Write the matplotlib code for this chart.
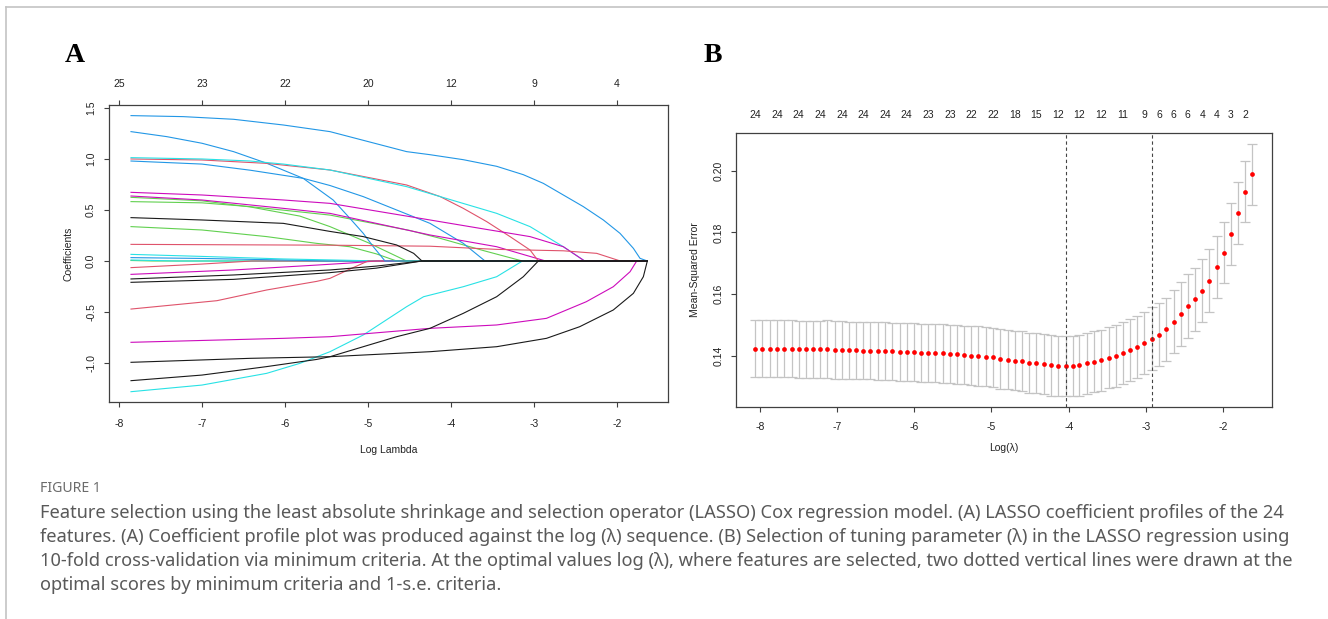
import matplotlib
matplotlib.use("Agg")
import matplotlib.pyplot as plt
from matplotlib.lines import Line2D

W, H, DPI = 1328, 619, 100
R_FONT = ["Liberation Sans", "DejaVu Sans"]

# ---------------- Panel A : coefficient paths ----------------
top_ticks_A = [-8, -7, -6, -5, -4, -3, -2]
top_counts_A = ["25", "23", "22", "20", "12", "9", "4"]
bottom_ticks_A = [-8, -7, -6, -5, -4, -3, -2]
yticks_A = [-1.0, -0.5, 0.0, 0.5, 1.0, 1.5]
lam_end_A = -1.635

blue1_x = [-7.855, -7.225, -6.62, -6.02, -5.458, -4.535, -4.253, -3.852, -3.45, -3.129, -2.888, -2.647, -2.406, -2.165, -1.964, -1.803, -1.723, -1.635]
blue1_y = [1.425, 1.415, 1.389, 1.333, 1.268, 1.072, 1.042, 0.993, 0.928, 0.846, 0.761, 0.647, 0.533, 0.402, 0.271, 0.124, 0.026, 0.0]
blue2_x = [-7.855, -7.425, -7.0, -6.62, -6.22, -5.78, -5.42, -5.22, -5.057, -4.936, -4.795]
blue2_y = [1.268, 1.219, 1.154, 1.072, 0.958, 0.81, 0.598, 0.42, 0.271, 0.14, 0.0]
cyan1_x = [-7.855, -7.0, -6.42, -6.02, -5.458, -4.535, -4.13, -3.45, -3.048, -2.647, -2.39]
cyan1_y = [1.013, 1.0, 0.98, 0.95, 0.892, 0.729, 0.631, 0.467, 0.337, 0.14, 0.0]
pink1_x = [-7.855, -7.0, -6.22, -5.458, -4.535, -4.13, -3.852, -3.57, -3.289, -3.048, -2.948]
pink1_y = [1.0, 0.99, 0.957, 0.892, 0.745, 0.631, 0.516, 0.386, 0.239, 0.108, 0.0]
blue3_x = [-7.855, -7.0, -6.42, -5.78, -5.458, -5.057, -4.655, -4.253, -3.852, -3.59]
blue3_y = [0.98, 0.95, 0.89, 0.81, 0.74, 0.631, 0.50, 0.369, 0.173, 0.0]
magenta1_x = [-7.855, -7.0, -6.02, -5.458, -4.37, -3.65, -3.048, -2.647, -2.39]
magenta1_y = [0.673, 0.647, 0.598, 0.565, 0.418, 0.32, 0.239, 0.14, 0.0]
magenta2_x = [-7.855, -7.0, -6.02, -5.458, -4.253, -3.45, -2.86]
magenta2_y = [0.637, 0.598, 0.516, 0.467, 0.255, 0.14, 0.0]
green1_x = [-7.855, -7.0, -6.42, -5.82, -5.458, -5.0, -4.535]
green1_y = [0.624, 0.59, 0.53, 0.44, 0.337, 0.18, 0.0]
green2_x = [-7.855, -7.0, -6.42, -5.458, -4.5, -4.13, -3.6, -3.14]
green2_y = [0.582, 0.57, 0.533, 0.45, 0.30, 0.222, 0.10, 0.0]
green3_x = [-7.855, -7.0, -6.22, -5.62, -5.22, -4.9, -4.655]
green3_y = [0.337, 0.304, 0.239, 0.173, 0.14, 0.07, 0.0]
black1_x = [-7.855, -7.0, -6.02, -5.458, -5.057, -4.655, -4.45, -4.35]
black1_y = [0.425, 0.402, 0.369, 0.29, 0.239, 0.157, 0.075, 0.0]
pink2_x = [-7.855, -5.458, -4.253, -3.45, -2.647, -2.245, -1.96]
pink2_y = [0.163, 0.155, 0.145, 0.114, 0.10, 0.075, 0.0]
cyan2_x = [-7.855, -7.0, -6.02, -5.42, -4.85]
cyan2_y = [0.065, 0.045, 0.02, 0.01, 0.0]
blue4_x = [-7.855, -7.0, -6.02, -5.5]
blue4_y = [0.033, 0.025, 0.01, 0.0]
cyan3_x = [-7.855, -7.3]
cyan3_y = [0.01, 0.0]
green4_x = [-7.855, -7.6]
green4_y = [0.005, 0.0]
pink3_x = [-7.855, -7.0, -6.4]
pink3_y = [-0.065, -0.03, 0.0]
magenta3_x = [-7.855, -6.62, -5.62, -5.22, -4.9]
magenta3_y = [-0.131, -0.088, -0.04, -0.02, 0.0]
black2_x = [-7.855, -6.62, -5.458, -4.9, -4.35]
black2_y = [-0.176, -0.137, -0.088, -0.05, 0.0]
black3_x = [-7.855, -6.62, -5.458, -4.9, -4.35]
black3_y = [-0.209, -0.18, -0.114, -0.07, 0.0]
pink4_x = [-7.855, -6.82, -6.22, -5.62, -5.458, -5.22, -5.0]
pink4_y = [-0.471, -0.389, -0.284, -0.20, -0.17, -0.08, 0.0]
magenta4_x = [-7.855, -6.82, -6.02, -5.458, -4.253, -3.45, -2.85, -2.37, -2.045, -1.843, -1.763]
magenta4_y = [-0.797, -0.775, -0.758, -0.742, -0.66, -0.627, -0.562, -0.399, -0.252, -0.105, 0.0]
black4_x = [-7.855, -6.42, -5.458, -4.253, -3.45, -2.85, -2.45, -2.045, -1.803, -1.683, -1.635]
black4_y = [-0.993, -0.954, -0.938, -0.889, -0.84, -0.758, -0.644, -0.48, -0.317, -0.154, 0.0]
black5_x = [-7.855, -7.0, -6.22, -5.62, -5.458, -5.057, -4.655, -4.253, -3.852, -3.45, -3.129, -2.948]
black5_y = [-1.173, -1.118, -1.035, -0.965, -0.938, -0.84, -0.742, -0.66, -0.513, -0.35, -0.154, 0.0]
cyan4_x = [-7.855, -7.0, -6.22, -5.82, -5.458, -5.057, -4.535, -4.33, -3.852, -3.45, -3.14]
cyan4_y = [-1.281, -1.216, -1.101, -1.003, -0.889, -0.725, -0.448, -0.35, -0.252, -0.154, 0.0]

R_BLACK, R_RED, R_GREEN, R_BLUE, R_CYAN, R_MAGENTA = "#1a1a1a", "#DF536B", "#61D04F", "#2297E6", "#28E2E5", "#CD0BBC"

paths_A = [
    (green4_x, green4_y, R_GREEN), (cyan3_x, cyan3_y, R_CYAN), (pink3_x, pink3_y, R_RED),
    (blue4_x, blue4_y, R_BLUE), (cyan2_x, cyan2_y, R_CYAN), (magenta3_x, magenta3_y, R_MAGENTA),
    (pink4_x, pink4_y, R_RED), (green3_x, green3_y, R_GREEN), (green1_x, green1_y, R_GREEN),
    (green2_x, green2_y, R_GREEN), (blue2_x, blue2_y, R_BLUE), (blue3_x, blue3_y, R_BLUE),
    (cyan4_x, cyan4_y, R_CYAN), (magenta2_x, magenta2_y, R_MAGENTA), (pink1_x, pink1_y, R_RED),
    (cyan1_x, cyan1_y, R_CYAN), (magenta1_x, magenta1_y, R_MAGENTA), (pink2_x, pink2_y, R_RED),
    (magenta4_x, magenta4_y, R_MAGENTA), (blue1_x, blue1_y, R_BLUE),
    (black1_x, black1_y, R_BLACK), (black2_x, black2_y, R_BLACK), (black3_x, black3_y, R_BLACK),
    (black5_x, black5_y, R_BLACK), (black4_x, black4_y, R_BLACK),
]

# ---------------- Panel B : cross-validation curve ----------------
log_lambda_B = [-8.06, -7.97, -7.87, -7.78, -7.69, -7.59, -7.50, -7.41, -7.31, -7.22,
                -7.13, -7.03, -6.94, -6.85, -6.75, -6.66, -6.57, -6.47, -6.38, -6.29,
                -6.19, -6.10, -6.01, -5.91, -5.82, -5.73, -5.63, -5.54, -5.45, -5.35,
                -5.26, -5.17, -5.07, -4.98, -4.89, -4.79, -4.70, -4.60, -4.51, -4.42,
                -4.32, -4.23, -4.14, -4.04, -3.95, -3.86, -3.76, -3.67, -3.58, -3.48,
                -3.39, -3.30, -3.20, -3.11, -3.02, -2.92, -2.83, -2.74, -2.64, -2.55,
                -2.46, -2.36, -2.27, -2.18, -2.08, -1.99, -1.90, -1.80, -1.71, -1.62]
cvm_B = [0.1423, 0.1423, 0.1423, 0.1423, 0.1423, 0.1423, 0.1422, 0.1422, 0.1422, 0.1422,
         0.1422, 0.1420, 0.1419, 0.1418, 0.1418, 0.1417, 0.1417, 0.1416, 0.1416, 0.1415,
         0.1414, 0.1414, 0.1412, 0.1411, 0.1411, 0.1410, 0.1409, 0.1406, 0.1405, 0.1403,
         0.1401, 0.1400, 0.1398, 0.1396, 0.1390, 0.1388, 0.1385, 0.1383, 0.1378, 0.1376,
         0.1374, 0.1370, 0.1368, 0.1367, 0.1367, 0.1370, 0.1376, 0.1381, 0.1386, 0.1395,
         0.1400, 0.1409, 0.1419, 0.1430, 0.1443, 0.1455, 0.1469, 0.1487, 0.1511, 0.1535,
         0.1561, 0.1584, 0.1611, 0.1644, 0.1688, 0.1735, 0.1795, 0.1863, 0.1932, 0.1989]
cvsd_B = [0.0092, 0.0092, 0.0092, 0.0092, 0.0092, 0.0092, 0.0092, 0.0092, 0.0092, 0.0092,
          0.0093, 0.0093, 0.0093, 0.0093, 0.0093, 0.0093, 0.0093, 0.0093, 0.0093, 0.0093,
          0.0094, 0.0094, 0.0094, 0.0094, 0.0094, 0.0095, 0.0095, 0.0095, 0.0095, 0.0095,
          0.0096, 0.0096, 0.0096, 0.0096, 0.0096, 0.0096, 0.0096, 0.0097, 0.0097, 0.0097,
          0.0098, 0.0098, 0.0098, 0.0098, 0.0098, 0.0098, 0.0098, 0.0099, 0.0099, 0.0099,
          0.0100, 0.0100, 0.0100, 0.0100, 0.0100, 0.0102, 0.0102, 0.0102, 0.0102, 0.0103,
          0.0103, 0.0102, 0.0102, 0.0101, 0.0101, 0.0100, 0.0100, 0.0099, 0.0099, 0.0099]
nz_label_idx = [0, 3, 6, 9, 12, 15, 18, 21, 24, 27, 30, 33, 36, 39, 42, 45, 48, 51, 54,
                56, 58, 60, 62, 64, 66, 68]
nz_labels = ["24", "24", "24", "24", "24", "24", "24", "24", "23", "23", "22", "22", "18",
             "15", "12", "12", "12", "11", "9", "6", "6", "6", "4", "4", "3", "2"]
lambda_min_log = -4.04
lambda_1se_log = -2.92
xticks_B = [-8, -7, -6, -5, -4, -3, -2]
yticks_B = [0.14, 0.16, 0.18, 0.20]

caption_title = "FIGURE 1"
caption_lines = [
    "Feature selection using the least absolute shrinkage and selection operator (LASSO) Cox regression model. (A) LASSO coefficient profiles of the 24",
    "features. (A) Coefficient profile plot was produced against the log (λ) sequence. (B) Selection of tuning parameter (λ) in the LASSO regression using",
    "10-fold cross-validation via minimum criteria. At the optimal values log (λ), where features are selected, two dotted vertical lines were drawn at the",
    "optimal scores by minimum criteria and 1-s.e. criteria.",
]

# ---------------- drawing ----------------
plt.rcParams["font.family"] = R_FONT
fig = plt.figure(figsize=(W / DPI, H / DPI), dpi=DPI)
fig.patch.set_facecolor("white")

def px_axes(l, t, r, b):
    return fig.add_axes([l / W, 1 - b / H, (r - l) / W, (b - t) / H])

SPINE = "#404040"
FS = 7.5

def style_r_axes(ax, xpad, ypad):
    for s in ax.spines.values():
        s.set_color(SPINE)
        s.set_linewidth(0.9)
    ax.tick_params(axis="both", direction="out", length=3.3, width=0.8, color=SPINE,
                   labelsize=FS, labelcolor="#222222")
    ax.tick_params(axis="x", pad=xpad)
    ax.tick_params(axis="y", pad=ypad)

# Panel A
axA = px_axes(109, 105, 668, 402)
for xs, ys, col in paths_A:
    px = list(xs)
    py = list(ys)
    if px[-1] < lam_end_A:
        px.append(lam_end_A)
        py.append(0.0)
    axA.plot(px, py, color=col, lw=0.8, solid_joinstyle="round")
axA.set_xlim(-8.12, -1.386)
axA.set_ylim(-1.382, 1.529)
axA.set_xticks(bottom_ticks_A)
axA.set_xticklabels([f"{t:d}" for t in bottom_ticks_A])
axA.set_yticks(yticks_A)
axA.set_yticklabels([f"{t:.1f}" for t in yticks_A], rotation=90, va="center")
style_r_axes(axA, 8.6, 6.0)
topA = axA.secondary_xaxis("top")
topA.set_xticks(top_ticks_A)
topA.set_xticklabels(top_counts_A)
topA.tick_params(direction="out", length=3.3, width=0.8, color=SPINE, labelsize=FS,
                 labelcolor="#222222", pad=8.0)
topA.spines["top"].set_visible(False)
fig.text(388.5 / W, 1 - 450 / H, "Log Lambda", ha="center", va="center", fontsize=FS, color="#222222")
fig.text(68 / W, 1 - 253.5 / H, "Coefficients", ha="center", va="center", rotation=90, fontsize=FS, color="#222222")

# Panel B
axB = px_axes(736, 133, 1272, 407)
axB.errorbar(log_lambda_B, cvm_B, yerr=cvsd_B, fmt="none", ecolor="#C4C4C4",
             elinewidth=0.9, capsize=3.8, capthick=0.9)
axB.plot(log_lambda_B, cvm_B, "o", color="#FF0000", ms=3.4, mec="none")
axB.axvline(lambda_min_log, color="#444444", lw=0.8, ls=(0, (3, 2.5)))
axB.axvline(lambda_1se_log, color="#444444", lw=0.8, ls=(0, (3, 2.5)))
axB.set_xlim(-8.311, -1.365)
axB.set_ylim(0.12348, 0.2122)
axB.set_xticks(xticks_B)
axB.set_xticklabels([f"{t:d}" for t in xticks_B])
axB.set_yticks(yticks_B)
axB.set_yticklabels([f"{t:.2f}" for t in yticks_B], rotation=90, va="center")
style_r_axes(axB, 7.2, 5.8)
topB = axB.secondary_xaxis("top")
topB.set_xticks([log_lambda_B[i] for i in nz_label_idx])
topB.set_xticklabels(nz_labels)
topB.tick_params(length=0, labelsize=FS, labelcolor="#222222", pad=9.7)
topB.spines["top"].set_visible(False)
fig.text(1004 / W, 1 - 448 / H, "Log(λ)", ha="center", va="center", fontsize=FS, color="#222222")
fig.text(695 / W, 1 - 270 / H, "Mean-Squared Error", ha="center", va="center", rotation=90, fontsize=FS, color="#222222")

# Panel letters
fig.text(75 / W, 1 - 56 / H, "A", ha="center", va="center", fontsize=20, fontweight="bold",
         family=["Liberation Serif", "DejaVu Serif"])
fig.text(713 / W, 1 - 56 / H, "B", ha="center", va="center", fontsize=20, fontweight="bold",
         family=["Liberation Serif", "DejaVu Serif"])

# Frame lines of the figure box
fig.add_artist(Line2D([6 / W, 1.0], [1 - 7 / H, 1 - 7 / H], transform=fig.transFigure,
                      color="#C4C4C4", lw=1.2))
fig.add_artist(Line2D([6 / W, 6 / W], [1 - 7 / H, 0.0], transform=fig.transFigure,
                      color="#C4C4C4", lw=1.2))

# Caption
CAP_FONT = ["Noto Sans", "DejaVu Sans"]
title = fig.text(40 / W, 1 - 489 / H, caption_title, ha="left", va="center", fontsize=8,
                 color="#6b6b6b", family=CAP_FONT)
cap_y = [513, 537, 561, 585]
cap_texts = []
for yy, line in zip(cap_y, caption_lines):
    cap_texts.append(fig.text(40 / W, 1 - yy / H, line, ha="left", va="center", fontsize=11,
                              color="#595959", family=CAP_FONT))
fig.canvas.draw()
rend = fig.canvas.get_renderer()
w0 = cap_texts[0].get_window_extent(rend).width
fs_cap = 11 * (1250 / w0)
for t in cap_texts:
    t.set_fontsize(fs_cap)
wt = title.get_window_extent(rend).width
title.set_fontsize(8 * (61 / wt))

fig.savefig("out.png", dpi=DPI, facecolor="white")
